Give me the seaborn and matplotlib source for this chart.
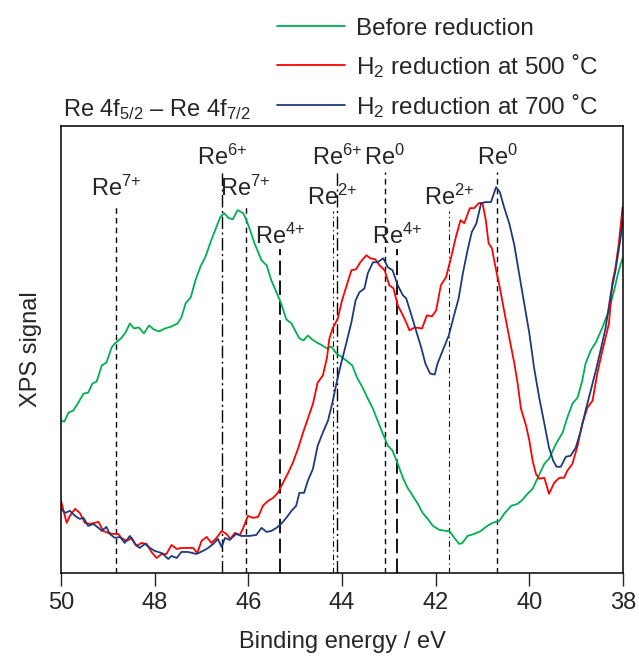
import matplotlib
matplotlib.use("Agg")
import pandas as pd
import matplotlib.pyplot as plt
import seaborn as sns

# Re 4f spectra, binding energy (eV) vs signal (arb. units)
green_be = [50.00, 49.93, 49.84, 49.74, 49.63, 49.52, 49.42, 49.33, 49.24, 49.13,
            49.03, 48.92, 48.85, 48.72, 48.62, 48.53, 48.44, 48.34, 48.23, 48.12,
            48.02, 47.91, 47.78, 47.64, 47.51, 47.43, 47.34, 47.23, 47.13, 47.02,
            46.92, 46.80, 46.70, 46.60, 46.52, 46.42, 46.33, 46.23, 46.11, 46.04,
            45.94, 45.87, 45.72, 45.61, 45.51, 45.40, 45.30, 45.19, 45.08, 44.98,
            44.91, 44.82, 44.73, 44.64, 44.54, 44.42, 44.32, 44.23, 44.12, 44.02,
            43.91, 43.78, 43.68, 43.56, 43.45, 43.34, 43.24, 43.13, 43.02, 42.92,
            42.81, 42.70, 42.60, 42.49, 42.38, 42.28, 42.17, 42.06, 41.92, 41.78,
            41.71, 41.60, 41.50, 41.43, 41.32, 41.18, 41.03, 40.93, 40.79, 40.64,
            40.54, 40.39, 40.25, 40.15, 40.04, 39.93, 39.83, 39.68, 39.58, 39.43,
            39.29, 39.19, 39.08, 38.97, 38.87, 38.80, 38.69, 38.58, 38.44, 38.30,
            38.19, 38.09, 38.01]
green_sig = [152, 151, 160, 162, 170, 179, 180, 189, 191, 207,
             210, 225, 229, 234, 240, 249, 244, 245, 239, 247,
             243, 241, 244, 246, 249, 255, 269, 275, 292, 306,
             315, 331, 343, 355, 359, 354, 353, 362, 359, 352,
             339, 329, 312, 307, 292, 280, 269, 253, 249, 240,
             234, 232, 237, 233, 230, 227, 224, 226, 219, 216,
             212, 207, 195, 185, 174, 164, 152, 139, 127, 122,
             109, 95, 85, 77, 69, 60, 54, 47, 43, 42,
             42, 35, 29, 30, 37, 39, 42, 46, 50, 52,
             59, 67, 69, 73, 79, 84, 94, 109, 114, 129,
             140, 155, 169, 175, 192, 209, 222, 230, 245, 262,
             282, 302, 314]

red_be = [50.00, 49.88, 49.81, 49.70, 49.60, 49.49, 49.38, 49.29, 49.20, 49.10,
          48.99, 48.89, 48.78, 48.71, 48.60, 48.49, 48.39, 48.28, 48.17, 48.07,
          47.96, 47.85, 47.75, 47.64, 47.53, 47.43, 47.29, 47.18, 47.09, 47.00,
          46.89, 46.79, 46.68, 46.57, 46.47, 46.38, 46.29, 46.18, 46.11, 46.01,
          45.90, 45.79, 45.69, 45.58, 45.47, 45.37, 45.26, 45.16, 45.05, 44.94,
          44.84, 44.73, 44.62, 44.52, 44.41, 44.32, 44.27, 44.20, 44.09, 44.00,
          43.90, 43.80, 43.70, 43.61, 43.48, 43.40, 43.29, 43.20, 43.09, 42.99,
          42.90, 42.81, 42.70, 42.63, 42.56, 42.45, 42.29, 42.19, 42.08, 41.99,
          41.89, 41.78, 41.67, 41.57, 41.47, 41.39, 41.27, 41.18, 41.08, 41.00,
          40.93, 40.87, 40.80, 40.71, 40.64, 40.54, 40.43, 40.32, 40.25, 40.18,
          40.07, 40.00, 39.93, 39.86, 39.79, 39.68, 39.58, 39.47, 39.36, 39.26,
          39.19, 39.08, 38.97, 38.87, 38.76, 38.65, 38.55, 38.44, 38.30, 38.23,
          38.16, 38.09, 38.01]
red_sig = [72, 50, 57, 64, 60, 50, 49, 50, 51, 42,
           40, 39, 39, 35, 32, 35, 27, 30, 29, 21,
           15, 19, 19, 28, 24, 25, 25, 25, 20, 32,
           36, 30, 35, 42, 39, 34, 40, 38, 45, 57,
           55, 56, 67, 72, 75, 80, 90, 99, 110, 124,
           139, 154, 169, 190, 197, 215, 234, 244, 254, 272,
           287, 302, 303, 310, 317, 314, 313, 307, 302, 287,
           284, 267, 257, 250, 242, 245, 244, 257, 256, 262,
           287, 295, 315, 335, 352, 349, 364, 364, 369, 369,
           352, 329, 324, 302, 287, 262, 235, 209, 189, 164,
           147, 132, 112, 99, 94, 95, 79, 90, 95, 95,
           102, 109, 127, 149, 165, 172, 199, 222, 249, 289,
           305, 329, 365]

blue_be = [50.00, 49.91, 49.81, 49.70, 49.60, 49.52, 49.42, 49.31, 49.20, 49.13,
           49.03, 48.96, 48.85, 48.74, 48.64, 48.53, 48.42, 48.32, 48.21, 48.10,
           48.00, 47.85, 47.71, 47.64, 47.53, 47.43, 47.29, 47.11, 46.97, 46.86,
           46.75, 46.65, 46.57, 46.50, 46.40, 46.26, 46.15, 46.04, 45.97, 45.83,
           45.72, 45.61, 45.51, 45.40, 45.30, 45.19, 45.08, 44.98, 44.91, 44.81,
           44.73, 44.62, 44.52, 44.41, 44.30, 44.21, 44.12, 44.02, 43.91, 43.80,
           43.71, 43.63, 43.52, 43.45, 43.34, 43.24, 43.12, 43.02, 42.92, 42.81,
           42.70, 42.63, 42.53, 42.42, 42.31, 42.22, 42.12, 42.02, 41.96, 41.85,
           41.72, 41.62, 41.51, 41.42, 41.32, 41.23, 41.13, 41.03, 40.94, 40.82,
           40.71, 40.63, 40.54, 40.43, 40.32, 40.22, 40.11, 40.00, 39.90, 39.79,
           39.68, 39.58, 39.49, 39.42, 39.33, 39.22, 39.12, 39.01, 38.90, 38.80,
           38.69, 38.58, 38.48, 38.37, 38.26, 38.16, 38.05, 38.01]
blue_sig = [64, 60, 62, 57, 54, 55, 47, 49, 45, 42,
            46, 39, 35, 36, 30, 37, 29, 25, 29, 25,
            22, 20, 14, 17, 15, 21, 21, 19, 22, 25,
            29, 34, 26, 35, 33, 39, 37, 37, 37, 38,
            45, 41, 42, 45, 49, 55, 62, 67, 80, 80,
            92, 104, 127, 140, 152, 169, 189, 209, 229, 250,
            272, 280, 284, 299, 310, 310, 314, 305, 302, 287,
            277, 274, 259, 242, 225, 209, 199, 198, 209, 222,
            237, 255, 274, 299, 322, 340, 349, 369, 370, 370,
            385, 380, 365, 349, 327, 299, 269, 239, 205, 175,
            149, 125, 112, 106, 106, 116, 117, 125, 142, 162,
            182, 202, 222, 245, 279, 302, 335, 352]

samples = ["Before reduction",
           "H$_\\mathregular{2}$ reduction at 500 ˚C",
           "H$_\\mathregular{2}$ reduction at 700 ˚C"]

# reference positions of Re oxidation states (eV)
ref_be = [48.83, 46.56, 46.06, 45.32, 44.20, 44.10, 43.09, 42.82, 41.72, 40.69]
ref_state = ["7+", "6+", "7+", "4+", "2+", "6+", "0", "4+", "2+", "0"]

# ---- styling per oxidation state ----
line_top = {"0": 400, "6+": 400, "7+": 368, "2+": 361, "4+": 323}
label_y = {"0": 407, "6+": 407, "7+": 376, "2+": 367, "4+": 328}
line_dash = {"0": (0, (4, 3)), "7+": (0, (4, 3)), "6+": (0, (9, 2.5, 1.5, 2.5)),
             "2+": (0, (5, 3, 1, 3)), "4+": (0, (8, 3))}
line_w = {"0": 1.0, "7+": 1.0, "6+": 1.0, "2+": 0.8, "4+": 1.3}

sns.set_style("ticks")
plt.rcParams["font.family"] = ["Liberation Sans", "DejaVu Sans"]
plt.rcParams["mathtext.fontset"] = "custom"
plt.rcParams["mathtext.rm"] = "Liberation Sans"
plt.rcParams["mathtext.it"] = "Liberation Sans:italic"

df = pd.concat([
    pd.DataFrame({"be": green_be, "sig": green_sig, "sample": samples[0]}),
    pd.DataFrame({"be": red_be, "sig": red_sig, "sample": samples[1]}),
    pd.DataFrame({"be": blue_be, "sig": blue_sig, "sample": samples[2]}),
])
palette = {samples[0]: "#00B050", samples[1]: "#FF0000", samples[2]: "#1F3A78"}

fig = plt.figure(figsize=(6.39, 6.56), dpi=100)
ax = fig.add_axes([0.0955, 0.1265, 0.8795, 0.6815])

sns.lineplot(data=df, x="be", y="sig", hue="sample", palette=palette,
             estimator=None, sort=False, lw=1.3, ax=ax)

for be, st in zip(ref_be, ref_state):
    ax.plot([be, be], [0, line_top[st]], color="black", lw=line_w[st],
            linestyle=line_dash[st], zorder=1)
    sup = st[:-1] + "{+}" if st.endswith("+") else st
    ax.text(be, label_y[st], "Re$^{\\mathregular{" + sup + "}}$", ha="center",
            va="baseline", fontsize=17)

ax.set_xlim(50, 38)
ax.set_ylim(0, 446)
ax.set_xticks([50, 48, 46, 44, 42, 40, 38])
ax.set_yticks([])
ax.tick_params(axis="x", direction="out", length=9, width=1, labelsize=17, pad=5)
for sp in ax.spines.values():
    sp.set_visible(True)
    sp.set_linewidth(1.1)
    sp.set_color("black")
ax.set_xlabel("Binding energy / eV", fontsize=17, labelpad=12)
ax.set_ylabel("XPS signal", fontsize=17, labelpad=14)

ax.text(0.004, 1.022, "Re 4f$_\\mathregular{5/2}$ – Re 4f$_\\mathregular{7/2}$",
        transform=ax.transAxes, fontsize=17, va="baseline", ha="left")

handles, labels = ax.get_legend_handles_labels()
ax.get_legend().remove()
fig.legend(handles, labels, loc="upper left", bbox_to_anchor=(0.433, 0.973),
           frameon=False, fontsize=17.5, handlelength=2.8, handletextpad=0.45,
           labelspacing=0.5, borderpad=0, borderaxespad=0)

fig.savefig("out.png", dpi=100)
